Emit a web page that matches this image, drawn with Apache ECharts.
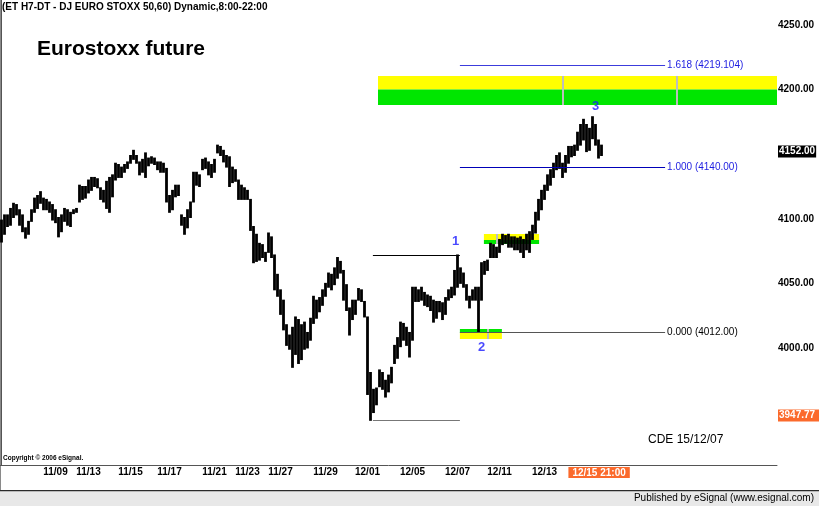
<!DOCTYPE html>
<html><head><meta charset="utf-8">
<script src="https://cdn.jsdelivr.net/npm/echarts@6/dist/echarts.min.js"></script>
<style>html,body{margin:0;padding:0;background:#fff}#c{width:819px;height:506px}</style>
</head><body><div id="c"></div>
<script>
// hourly price bars (high / low), one per bar index
const barHigh = [
4099,4103,4103,4108,4112,4111,4107,4103,4093,4098,
4107,4116,4118,4121,4116,4115,4113,4111,4107,4101,
4103,4108,4107,4105,4107,4108,4126,4125,4125,4130,
4132,4132,4131,4124,4122,4129,4132,4134,4143,4142,
4140,4142,4144,4149,4153,4149,4144,4146,4151,4147,
4148,4147,4144,4144,4143,4139,4118,4122,4126,4126,
4103,4101,4107,4113,4136,4136,4134,4146,4147,4144,
4142,4146,4157,4156,4153,4149,4148,4140,4138,4130,
4126,4124,4122,4115,4094,4088,4081,4080,4074,4089,
4086,4072,4057,4045,4037,4018,4010,4016,4024,4022,
4018,4020,4012,4023,4040,4037,4039,4045,4050,4058,
4057,4062,4070,4067,4060,4049,4031,4037,4037,4046,
4045,4036,4024,3981,3968,3969,3983,3981,3975,3979,
3985,4002,4008,4020,4019,4016,4012,4047,4047,4045,
4047,4043,4041,4040,4037,4036,4036,4035,4039,4045,
4047,4060,4072,4062,4058,4049,4040,4045,4047,4047,
4066,4067,4068,4081,4080,4078,4084,4088,4087,4088,
4086,4086,4085,4086,4084,4088,4090,4095,4105,4115,
4122,4126,4134,4138,4143,4149,4151,4143,4149,4156,
4156,4157,4167,4173,4177,4173,4170,4179,4173,4161,
4157];
const barLow = [
4082,4088,4094,4095,4101,4103,4095,4090,4085,4088,
4098,4105,4108,4112,4107,4107,4105,4099,4097,4086,
4090,4098,4095,4094,4104,4105,4113,4115,4116,4120,
4122,4125,4124,4115,4113,4108,4105,4117,4130,4132,
4132,4136,4139,4143,4146,4143,4134,4136,4132,4141,
4143,4142,4138,4136,4136,4113,4105,4107,4117,4118,
4095,4088,4093,4101,4113,4126,4125,4138,4139,4134,
4132,4136,4151,4149,4144,4140,4125,4128,4129,4115,
4115,4115,4115,4091,4066,4067,4068,4070,4067,4074,
4070,4045,4040,4026,4014,4002,3999,3985,3995,3988,
3991,3999,4000,4006,4019,4023,4028,4033,4040,4047,
4045,4049,4054,4058,4037,4029,4010,4022,4026,4037,
4036,4024,3964,3944,3950,3956,3970,3968,3962,3966,
3973,3988,3992,4001,4006,4002,3993,4006,4036,4036,
4037,4033,4032,4029,4020,4023,4028,4022,4026,4037,
4039,4041,4047,4050,4047,4037,4031,4037,4037,4012,
4037,4057,4060,4070,4070,4070,4074,4080,4081,4078,
4078,4076,4076,4074,4070,4076,4074,4084,4089,4099,
4107,4115,4122,4126,4132,4138,4139,4132,4136,4143,
4148,4149,4153,4157,4161,4152,4153,4162,4157,4147,
4149];

// time axis labels (bar index where each labelled day falls)
const dayLabels = ['11/09','11/13','11/15','11/17','11/21','11/23','11/27','11/29','12/01','12/05','12/07','12/11','12/13'];
const dayBars   = [18, 29, 43, 56, 71, 82, 93, 108, 122, 137, 152, 166, 181];
const cursorLabel = '12/15 21:00';
const cursorBar = 199.2;
const totalBars = 259;

// price axis
const priceTicks = [4000, 4050, 4100, 4200, 4250];
const lastPrice = 4152.00;
const cursorPrice = 3947.77;
const priceMin = 3909.4, priceMax = 4269.35;

// wave 1 high / low reference lines
const wave1High = 4072, wave1Low = 3944;
const wave1From = 123.8, wave1To = 152.8;

// fibonacci projection
const fibLevels = ['1.618', '1.000', '0.000'];
const fibPrices = [4219.104, 4140.00, 4012.00];
const fibPriceText = ['4219.104', '4140.00', '4012.00'];
const fibFrom = 152.8, fibTo = 221.2;

// wave count labels
const waveNames = ['1', '2', '3'];
const waveBars  = [152, 159, 197];

// target zones
const zoneBig   = {from:125.5, to:258.5, low:4188, mid:4200, high:4210.5, marks:[187.2, 225.2], topColor:'#ffff00', botColor:'#00e600'};
const zoneLow   = {from:152.8, to:166.8, low:4007, mid:4011.6, high:4014.7, marks:[162.2], topColor:'#00e600', botColor:'#ffff00'};
const zoneMid   = {from:160.8, to:179.2, low:4080.5, mid:4083.6, high:4088.2, marks:[165.2], topColor:'#ffff00', botColor:'#00e600'};

const chart = echarts.init(document.getElementById('c'), null, {renderer:'canvas'});

const barData = barHigh.map((h, i) => [i, h, barLow[i]]);

function zoneAreas(z) {
  return [
    [{coord:[z.from, z.mid], itemStyle:{color:z.topColor, opacity:1}}, {coord:[z.to, z.high]}],
    [{coord:[z.from, z.low], itemStyle:{color:z.botColor, opacity:1}}, {coord:[z.to, z.mid]}]
  ];
}
function zoneMarks(z) {
  return z.marks.map(m => [{coord:[m, z.low], lineStyle:{color:'#bdbdbd', width:2, type:'solid'}}, {coord:[m, z.high]}]);
}

const fibColors = ['#3c3cdc', '#0000b8', '#555555'];
const fibTextColors = ['#1c1ce0', '#1c1ce0', '#000000'];
const FONT = 'Liberation Sans, Arial, sans-serif';

const lineMarks = [
  [{coord:[wave1From, wave1High], lineStyle:{color:'#000', width:1, type:'solid'}}, {coord:[wave1To, wave1High]}],
  [{coord:[wave1From, wave1Low], lineStyle:{color:'#777', width:1, type:'solid'}}, {coord:[wave1To, wave1Low]}]
];
fibLevels.forEach((lv, k) => {
  lineMarks.push([
    {coord:[fibFrom, fibPrices[k]], lineStyle:{color:fibColors[k], width:1, type:'solid'},
     label:{show:true, position:'end', distance:2, formatter: lv + ' (' + fibPriceText[k] + ')',
            color:fibTextColors[k], fontSize:10, fontFamily:FONT}},
    {coord:[fibTo, fibPrices[k]]}
  ]);
});

const option = {
  animation: false,
  backgroundColor: '#ffffff',
  grid: {left:0, top:0, right:42, bottom:41, containLabel:false, outerBoundsMode:'none'},
  xAxis: {
    type:'value', min:-0.5, max:totalBars - 0.5,
    axisLine:{show:true, lineStyle:{color:'#555', width:1}},
    axisTick:{show:false},
    splitLine:{show:false},
    axisLabel:{
      show:true, margin:2, hideOverlap:false,
      customValues: dayBars.concat([cursorBar]),
      fontFamily:FONT, fontSize:10, fontWeight:'bold', color:'#000',
      formatter: v => {
        if (Math.abs(v - cursorBar) < 1e-6) return '{hl|' + cursorLabel + '}';
        const k = dayBars.indexOf(v);
        return k >= 0 ? dayLabels[k] : '';
      },
      rich:{hl:{backgroundColor:'#fb6a2c', color:'#fff', fontWeight:'bold', fontSize:10,
                fontFamily:FONT, padding:[1,4,0,4], lineHeight:11}}
    }
  },
  yAxis: {
    type:'value', position:'right', min:priceMin, max:priceMax,
    axisLine:{show:true, lineStyle:{color:'#555', width:1}},
    axisTick:{show:false},
    splitLine:{show:false},
    axisLabel:{
      show:true, margin:1, inside:false, hideOverlap:false,
      customValues: priceTicks.concat([lastPrice, cursorPrice]),
      fontFamily:FONT, fontSize:10, fontWeight:'bold', color:'#000',
      formatter: v => {
        if (v === lastPrice) return '{blk|' + v.toFixed(2) + '}';
        if (v === cursorPrice) return '{org|' + v.toFixed(2) + '}';
        return v.toFixed(2);
      },
      rich:{
        blk:{backgroundColor:'#000', color:'#fff', fontWeight:'bold', fontSize:10, padding:[1,1,1,1], fontFamily:FONT},
        org:{backgroundColor:'#fb6a2c', color:'#fff', fontWeight:'bold', fontSize:10, padding:[1,6,1,1], fontFamily:FONT}
      }
    }
  },
  series: [
    {
      type:'line', data:[], z:1, silent:true,
      markArea:{silent:true, data: zoneAreas(zoneBig).concat(zoneAreas(zoneLow), zoneAreas(zoneMid))},
      markLine:{silent:true, symbol:['none','none'], label:{show:false},
                data: zoneMarks(zoneBig).concat(zoneMarks(zoneLow), zoneMarks(zoneMid))}
    },
    {
      type:'line', data:[], z:2, silent:true,
      markLine:{silent:true, symbol:['none','none'], label:{show:false}, data: lineMarks}
    },
    {
      type:'custom', z:3, silent:true,
      data: barData,
      renderItem: (params, api) => {
        const x = api.value(0), hi = api.value(1), lo = api.value(2);
        const p1 = api.coord([x, hi]), p2 = api.coord([x, lo]);
        return {type:'line', shape:{x1:p1[0], y1:p1[1] - 0.5, x2:p2[0], y2:p2[1] + 0.5},
                style:{stroke:'#000', lineWidth:2.8}};
      }
    },
    {
      type:'scatter', z:4, silent:true, symbolSize:1, itemStyle:{color:'rgba(0,0,0,0)'},
      data: waveBars.map((b, k) => {
        const up = k !== 1;
        return {
          value:[b, up ? barHigh[b] : barLow[b]],
          label:{show:true, formatter: waveNames[k], position: up ? 'top' : 'bottom',
                 distance: k === 0 ? 7 : (k === 1 ? 8 : 3), offset:[k === 0 ? -2 : 3, 0],
                 color:'#1a1aff', fontSize:13, fontWeight:'bold', fontFamily:FONT}
        };
      })
    }
  ],
  graphic: [
    {type:'rect', left:0, top:0, shape:{width:1, height:491}, style:{fill:'#8a8a8a'}, silent:true},
    {type:'rect', left:0, top:491, shape:{width:819, height:15}, style:{fill:'#e8e8e8'}, silent:true},
    {type:'rect', left:0, top:490, shape:{width:819, height:1.2}, style:{fill:'#2a2a2a'}, silent:true},
    {type:'text', right:5, top:493, style:{text:'Published by eSignal (www.esignal.com)', fill:'#000',
      font:'10px "Liberation Sans", Arial, sans-serif'}},
    {type:'text', left:2, top:2, style:{text:'(ET H7-DT - DJ EURO STOXX 50,60) Dynamic,8:00-22:00', fill:'#000',
      font:'bold 10px "Liberation Sans", Arial, sans-serif'}},
    {type:'text', left:37, top:39, style:{text:'Eurostoxx future', fill:'#000',
      font:'bold 21px "Liberation Sans", Arial, sans-serif'}},
    {type:'text', left:3, top:455, style:{text:'Copyright \u00a9 2006 eSignal.', fill:'#000',
      font:'bold 6.5px "Liberation Sans", Arial, sans-serif'}},
    {type:'text', left:648, top:434, style:{text:'CDE 15/12/07', fill:'#000',
      font:'12px "Liberation Sans", Arial, sans-serif'}}
  ]
};
chart.setOption(option);
</script></body></html>
